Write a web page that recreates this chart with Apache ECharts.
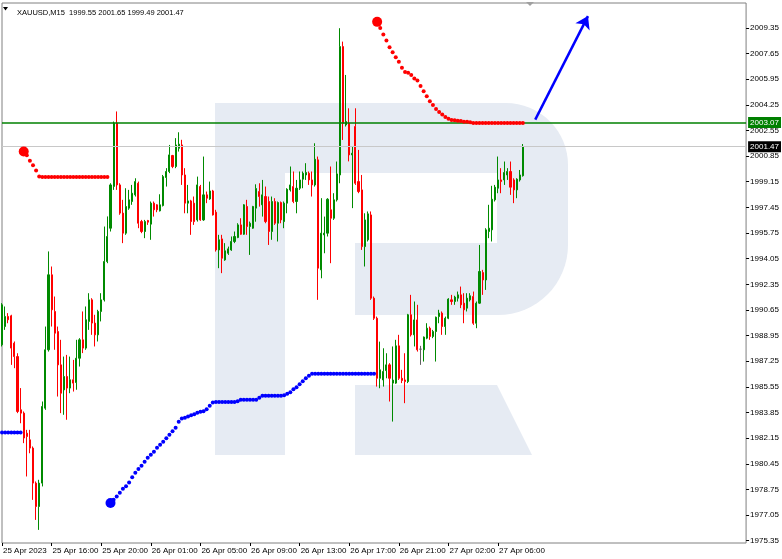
<!DOCTYPE html>
<html>
<head>
<meta charset="utf-8">
<script src="https://cdn.jsdelivr.net/npm/echarts@6/dist/echarts.min.js"></script>
<style>
html,body{margin:0;padding:0;background:#fff;}
#chart{width:782px;height:559px;}
</style>
</head>
<body>
<div id="chart"></div>
<script>
// ---- Data (XAUUSD M15) ----
const opens = [1988.34,1989.55,1990.22,1990.26,1988.45,1987.56,1984.03,1983.81,1982.48,1982.04,1981.49,1979.17,1977.62,1979.17,1984.14,1988.01,1992.98,1990.55,1989.22,1987.01,1985.35,1986.24,1985.47,1986.02,1985.84,1987.45,1988.67,1988.12,1989.89,1991.32,1989.78,1989.00,1990.55,1991.32,1993.86,1996.07,1998.84,2003.03,1998.94,1997.07,1995.74,1997.40,1997.84,1998.28,1999.05,1996.51,1995.85,1996.58,1996.34,1997.73,1997.62,1997.22,1997.57,1999.43,1999.83,2000.89,2000.16,2001.37,2001.59,1999.60,1997.73,1997.88,1997.73,1996.62,1998.83,1996.62,1998.28,1998.01,1998.54,1997.13,1994.63,1995.36,1993.97,1994.41,1994.63,1995.19,1995.45,1996.29,1995.67,1997.51,1996.18,1996.07,1997.40,1998.50,1997.62,1998.17,1997.84,1995.85,1997.84,1996.40,1997.77,1996.51,1997.73,1998.61,1998.83,1997.84,1998.72,1999.32,1999.60,1999.71,1999.27,1998.94,2000.60,1993.31,1995.63,1995.74,1997.29,1996.73,1997.95,1999.60,2008.11,2002.92,2003.03,2000.93,2002.81,1999.16,1998.61,1994.85,1995.30,1996.95,1991.43,1990.10,1986.12,1986.01,1986.63,1987.01,1985.80,1985.80,1988.27,1986.12,1986.01,1985.90,1990.33,1989.00,1989.99,1988.05,1988.01,1988.78,1989.44,1988.89,1989.22,1990.21,1990.44,1989.55,1990.10,1991.32,1991.21,1991.43,1991.65,1991.10,1990.77,1991.32,1991.54,1989.77,1991.10,1993.13,1992.64,1995.85,1995.96,1997.95,1998.72,1999.27,1999.27,1999.60,1999.83,1999.27,1998.61,1999.27,1999.55];
const closes = [1990.99,1990.22,1990.00,1988.12,1987.56,1983.92,1983.81,1982.16,1982.26,1981.49,1979.17,1977.62,1979.17,1984.25,1988.01,1992.98,1990.66,1989.11,1987.01,1985.13,1986.24,1985.47,1986.02,1985.80,1987.45,1988.67,1988.12,1990.00,1991.32,1989.78,1989.00,1990.55,1991.32,1993.86,1995.52,1998.94,2003.03,1998.94,1997.07,1995.74,1997.51,1997.95,1998.39,1999.16,1996.40,1995.85,1996.51,1996.47,1997.73,1997.29,1997.29,1997.62,1999.49,1999.83,2000.93,2000.16,2001.59,2001.64,1999.60,1997.73,1997.88,1996.51,1996.51,1998.94,1996.62,1998.28,1998.06,1998.54,1996.95,1994.63,1995.30,1994.08,1994.57,1994.70,1995.19,1995.52,1996.29,1995.67,1997.62,1996.18,1996.40,1997.51,1998.70,1998.17,1998.28,1996.51,1995.85,1997.84,1996.40,1997.77,1996.62,1997.73,1998.65,1998.94,1997.84,1998.72,1999.27,1999.71,1999.76,1999.27,1998.94,2000.64,1993.42,1995.74,1995.74,1997.99,1996.73,1997.95,1999.67,2008.11,2003.03,2003.14,2000.93,2001.04,1999.05,1998.50,1994.85,1996.62,1997.02,1991.43,1990.10,1986.12,1986.68,1986.57,1987.01,1986.12,1986.00,1988.27,1986.12,1985.97,1985.90,1990.33,1989.00,1989.99,1988.01,1988.05,1988.85,1989.44,1988.89,1989.22,1990.17,1990.44,1989.55,1990.10,1991.37,1991.21,1991.50,1991.65,1990.99,1990.66,1991.43,1991.59,1989.77,1991.10,1993.20,1992.64,1995.96,1996.07,1997.99,1998.79,1999.27,1999.16,1999.76,1999.83,1998.79,1998.61,1999.32,1999.60,2001.47];
const lows = [1988.23,1989.33,1989.77,1987.01,1986.79,1983.81,1983.14,1981.82,1979.61,1981.15,1978.06,1976.73,1976.07,1978.95,1984.03,1987.89,1989.55,1988.01,1984.91,1983.81,1983.70,1983.37,1985.13,1985.24,1985.36,1986.90,1987.79,1988.01,1989.33,1989.00,1988.23,1988.56,1989.89,1991.21,1993.75,1995.85,1998.61,1998.61,1996.96,1995.08,1995.63,1997.29,1997.62,1998.17,1996.07,1995.74,1995.41,1996.29,1995.30,1996.84,1997.13,1997.18,1997.51,1998.83,1999.72,2000.05,2000.05,2001.15,1998.94,1997.06,1997.06,1995.63,1996.29,1996.51,1996.56,1996.56,1997.73,1997.95,1996.91,1994.52,1993.42,1993.09,1993.91,1994.30,1994.57,1995.08,1995.41,1995.63,1995.63,1995.63,1994.30,1996.03,1996.50,1997.50,1996.84,1996.40,1994.96,1995.30,1996.29,1995.19,1996.40,1996.07,1997.06,1998.50,1997.73,1997.06,1998.61,1998.72,1999.27,1998.94,1998.17,1998.83,1991.32,1992.75,1994.41,1995.52,1993.75,1996.62,1997.84,1999.05,2001.92,2002.81,2000.50,1997.40,1998.94,1998.39,1994.63,1993.53,1995.19,1991.32,1989.99,1985.57,1985.46,1985.57,1986.12,1984.58,1983.25,1985.75,1986.01,1985.80,1984.47,1985.80,1988.89,1988.23,1987.89,1987.01,1987.23,1988.71,1988.67,1988.78,1987.23,1989.77,1989.00,1989.00,1990.04,1990.99,1990.99,1991.21,1990.77,1989.77,1990.55,1991.21,1989.66,1989.44,1991.06,1991.65,1991.98,1995.41,1995.19,1997.84,1998.39,1998.39,1998.94,1999.27,1998.28,1997.73,1998.06,1999.16,1999.49];
const highs = [1991.10,1990.88,1990.44,1990.33,1988.56,1987.78,1985.47,1983.92,1982.70,1982.70,1981.60,1979.28,1979.39,1984.58,1989.55,1994.53,1993.53,1991.54,1989.55,1988.67,1987.56,1987.67,1987.56,1987.34,1988.67,1988.78,1990.55,1990.88,1991.76,1991.43,1990.33,1990.66,1991.76,1996.18,1996.85,1999.05,2003.14,2003.81,1999.05,1997.95,1998.72,1998.61,1998.94,1999.38,1999.16,1996.62,1996.62,1996.62,1997.84,1997.84,1997.66,1998.32,1999.60,2000.05,2001.59,2000.93,2002.04,2002.43,2001.93,2000.05,1998.94,1997.95,1998.17,1999.49,1998.94,2000.82,1998.50,1999.16,1998.61,1997.29,1995.63,1995.63,1995.08,1994.85,1995.52,1995.85,1996.40,1996.73,1997.66,1997.95,1996.51,1997.55,1998.98,1999.05,1999.27,1998.83,1998.17,1998.17,1998.06,1997.84,1997.84,1997.84,1998.72,2000.16,1999.83,1999.27,1999.83,1999.83,2000.38,1999.83,1999.83,2001.70,2000.82,1998.06,1996.84,1998.06,2000.16,1998.39,2000.49,2009.33,2008.44,2006.23,2004.02,2001.48,2004.02,2001.26,1999.60,1997.06,1997.18,1997.18,1991.54,1990.21,1988.55,1988.11,1987.78,1987.12,1988.23,1988.67,1989.00,1986.68,1987.78,1990.39,1991.65,1991.21,1990.99,1988.27,1988.89,1989.77,1989.55,1989.33,1990.21,1990.66,1990.55,1990.21,1991.43,1991.65,1991.59,1991.87,1992.20,1991.76,1991.76,1991.76,1991.87,1991.21,1994.96,1993.31,1996.07,1997.62,1998.88,1998.94,2000.82,2000.05,2000.49,2000.05,2000.49,1999.38,1999.38,1999.93,2001.65];

// Dotted trailing indicator segments (start bar index + values)
const blueAStart = 0;
const blueA = [1982.53,1982.53,1982.53,1982.53,1982.53,1982.53,1982.53];
const redAStart = 7;
const redA = [2001.15,2000.90,2000.54,2000.25,1999.89,1999.50,1999.47,1999.47,1999.47,1999.47,1999.47,1999.47,1999.47,1999.47,1999.47,1999.47,1999.47,1999.47,1999.47,1999.47,1999.47,1999.47,1999.47,1999.47,1999.47,1999.47,1999.47,1999.47];
const blueBStart = 35;
const blueB = [1977.85,1978.07,1978.28,1978.53,1978.80,1978.96,1979.21,1979.56,1979.86,1980.10,1980.32,1980.59,1980.85,1981.05,1981.25,1981.51,1981.71,1981.92,1982.14,1982.37,1982.61,1982.84,1983.24,1983.45,1983.50,1983.59,1983.67,1983.73,1983.83,1983.90,1983.93,1984.06,1984.30,1984.52,1984.54,1984.54,1984.54,1984.54,1984.54,1984.54,1984.54,1984.59,1984.69,1984.69,1984.69,1984.69,1984.69,1984.69,1984.83,1984.96,1984.96,1984.96,1984.96,1984.96,1984.96,1984.96,1985.00,1985.09,1985.19,1985.39,1985.52,1985.72,1985.92,1986.12,1986.28,1986.42,1986.42,1986.42,1986.42,1986.42,1986.42,1986.42,1986.42,1986.42,1986.42,1986.42,1986.42,1986.42,1986.42,1986.42,1986.42,1986.42,1986.42,1986.42,1986.42,1986.42];
const redBStart = 121;
const redB = [2009.75,2009.35,2008.91,2008.51,2008.07,2007.74,2007.41,2007.10,2006.70,2006.43,2006.37,2006.22,2005.99,2005.86,2005.49,2005.15,2004.82,2004.49,2004.23,2003.98,2003.78,2003.60,2003.45,2003.32,2003.25,2003.23,2003.19,2003.17,2003.13,2003.12,2003.10,2003.05,2003.05,2003.05,2003.05,2003.05,2003.05,2003.05,2003.05,2003.05,2003.05,2003.05,2003.05,2003.05,2003.05,2003.05,2003.05,2003.05];

const levelGreen = 2003.07;
const levelBid = 2001.47;
const arrowFrom = [172, 2003.27];
const arrowTo = [189, 2010.13];

const yTicks = [1975.35,1977.05,1978.75,1980.45,1982.15,1983.85,1985.55,1987.25,1988.95,1990.65,1992.35,1994.05,1995.75,1997.45,1999.15,2000.85,2002.55,2004.25,2005.95,2007.65,2009.35];
const xTickIndex = [0,16,32,48,64,80,96,112,128,144,160];
const xTickLabels = ['25 Apr 2023','25 Apr 16:00','25 Apr 20:00','26 Apr 01:00','26 Apr 05:00','26 Apr 09:00','26 Apr 13:00','26 Apr 17:00','26 Apr 21:00','27 Apr 02:00','27 Apr 06:00'];
const header = 'XAUUSD,M15  1999.55 2001.65 1999.49 2001.47';

// ---- Categories: M15 bars from 25 Apr 12:00, daily break 00:00-00:45 ----
const TOTAL_SLOTS = 241;
const categories = [];
(function () {
  let t = Date.UTC(2023, 3, 25, 12, 0);
  const mon = ['Jan','Feb','Mar','Apr','May','Jun','Jul','Aug','Sep','Oct','Nov','Dec'];
  while (categories.length < TOTAL_SLOTS) {
    const d = new Date(t);
    if (d.getUTCHours() !== 0) {
      const hh = String(d.getUTCHours()).padStart(2, '0');
      const mm = String(d.getUTCMinutes()).padStart(2, '0');
      categories.push(d.getUTCDate() + ' ' + mon[d.getUTCMonth()] + ' ' + hh + ':' + mm);
    }
    t += 15 * 60000;
  }
})();

const candles = opens.map((o, i) => [o, closes[i], lows[i], highs[i]]);
function seg(start, vals, big) {
  return vals.map((v, i) => (i === 0 && big) ? { value: [start + i, v], symbolSize: 10 } : [start + i, v]);
}

const FONT = "'Liberation Sans', Arial, sans-serif";
const chart = echarts.init(document.getElementById('chart'), null, { renderer: 'canvas' });
const WM = '#e6ebf3';

chart.setOption({
  animation: false,
  backgroundColor: '#ffffff',
  title: {
    text: header, left: 12, top: 4,
    textStyle: { fontFamily: FONT, fontSize: 7.5, fontWeight: 'normal', color: '#000' }
  },
  graphic: [
    { type: 'rect', z: 0, silent: true, shape: { x: 215, y: 103, width: 70, height: 352 }, style: { fill: WM } },
    { type: 'rect', z: 0, silent: true, shape: { x: 284, y: 103, width: 284, height: 212, r: [0, 62, 70, 0] }, style: { fill: WM } },
    { type: 'rect', z: 0, silent: true, shape: { x: 285, y: 173, width: 212, height: 70 }, style: { fill: '#ffffff' } },
    { type: 'rect', z: 0, silent: true, shape: { x: 285, y: 242, width: 70, height: 74 }, style: { fill: '#ffffff' } },
    { type: 'polygon', z: 0, silent: true, shape: { points: [[355, 385], [497, 385], [532, 455], [355, 455]] }, style: { fill: WM } },
    { type: 'polygon', z: 10, silent: true, shape: { points: [[3, 7], [8, 7], [5.5, 10.5]] }, style: { fill: '#000' } },
    { type: 'polygon', z: 10, silent: true, shape: { points: [[526, 2], [534, 2], [530, 6]] }, style: { fill: '#a0a0a0' } }
  ],
  grid: { left: 2, right: 34, top: 3, bottom: 16, show: true, borderColor: '#808080', borderWidth: 1, backgroundColor: 'transparent' },
  xAxis: {
    type: 'category', data: categories, boundaryGap: false,
    axisLine: { show: false },
    splitLine: { show: false },
    axisTick: { show: true, length: 3, interval: (i) => xTickIndex.indexOf(i) >= 0, lineStyle: { color: '#000' } },
    axisLabel: {
      interval: (i) => xTickIndex.indexOf(i) >= 0, hideOverlap: false,
      formatter: (v, i) => { const k = xTickIndex.indexOf(i); return k >= 0 ? xTickLabels[k] : ''; },
      align: 'left', margin: 4, color: '#000', fontFamily: FONT, fontSize: 8, padding: [0, 0, 0, 1]
    }
  },
  yAxis: {
    type: 'value', position: 'right', min: 1975.2, max: 2011.0, scale: true,
    axisLine: { show: false },
    splitLine: { show: false },
    axisTick: { show: true, length: 3, customValues: yTicks, lineStyle: { color: '#000' } },
    axisLabel: { customValues: yTicks, formatter: (v) => v.toFixed(2), margin: 4, color: '#000', fontFamily: FONT, fontSize: 8 }
  },
  series: [
    {
      type: 'candlestick', data: candles, barWidth: 1.6, z: 3,
      itemStyle: { color: '#008a00', color0: '#ff0000', borderColor: '#008a00', borderColor0: '#ff0000', borderColorDoji: '#606060', borderWidth: 1 },
      markLine: {
        silent: true, symbol: 'none', animation: false, z: 4,
        data: [
          { yAxis: levelBid, lineStyle: { color: '#c8c8c8', width: 1, type: 'solid' },
            label: { show: true, position: 'end', distance: 2, formatter: levelBid.toFixed(2), backgroundColor: '#000', color: '#fff', fontFamily: FONT, fontSize: 8, padding: [2, 2, 1, 2] } },
          { yAxis: levelGreen, lineStyle: { color: '#008000', width: 1.5, type: 'solid' },
            label: { show: true, position: 'end', distance: 2, formatter: levelGreen.toFixed(2), backgroundColor: '#008000', color: '#fff', fontFamily: FONT, fontSize: 8, padding: [2, 2, 1, 2] } }
        ]
      }
    },
    { type: 'scatter', data: seg(redAStart, redA, true), symbolSize: 4, itemStyle: { color: '#ff0000', opacity: 1 }, z: 5, silent: true },
    { type: 'scatter', data: seg(redBStart, redB, true), symbolSize: 4, itemStyle: { color: '#ff0000', opacity: 1 }, z: 5, silent: true },
    { type: 'scatter', data: seg(blueAStart, blueA, false), symbolSize: 4, itemStyle: { color: '#0000ff', opacity: 1 }, z: 5, silent: true },
    { type: 'scatter', data: seg(blueBStart, blueB, true), symbolSize: 4, itemStyle: { color: '#0000ff', opacity: 1 }, z: 5, silent: true,
      markLine: {
        silent: true, animation: false, symbol: ['none', 'arrow'], symbolSize: 12,
        lineStyle: { color: '#0000ff', width: 2.5, type: 'solid' }, label: { show: false },
        data: [[{ coord: arrowFrom, symbol: 'none' }, { coord: arrowTo, symbol: 'arrow', symbolSize: 12 }]]
      }
    }
  ]
});
</script>
</body>
</html>
